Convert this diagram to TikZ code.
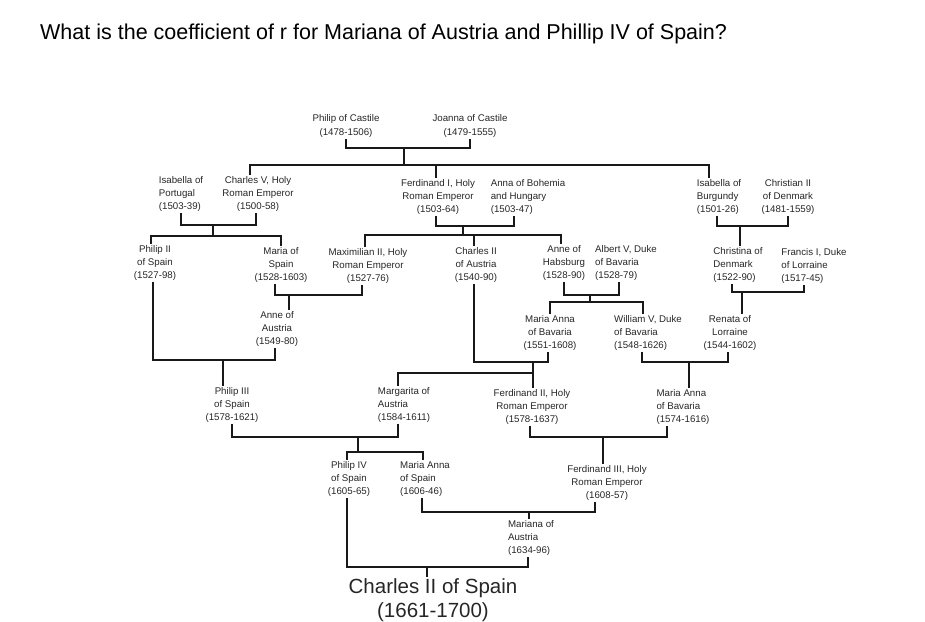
\documentclass[tikz,border=0pt]{standalone}
\usepackage{fontspec}
\setmainfont{Liberation Sans}
\begin{document}
\begin{tikzpicture}[x=1pt,y=-1pt,
    person/.style={font=\fontsize{9.7}{12.6}\selectfont,text=black!85,inner sep=1.5pt,align=center},
    lperson/.style={person,align=left}]
    \tikzstyle{link}=[draw=black!90,line width=2.4pt]
    \useasboundingbox (0,0) rectangle (925,621);

    \node[anchor=base west,inner sep=0pt,font=\fontsize{21.5}{24}\selectfont] (question) at (40,39)
        {What is the coefficient of r for Mariana of Austria and Phillip IV of Spain?};

    \node[person,font=\fontsize{9.7}{13.8}\selectfont] (phcast) at (346,126) {Philip of Castile\\(1478-1506)};
    \node[person,font=\fontsize{9.7}{13.8}\selectfont] (jocast) at (470,126) {Joanna of Castile\\(1479-1555)};

    \node[lperson] (isaport) at (181,194) {Isabella of\\Portugal\\(1503-39)};
    \node[person] (charles5) at (258,194) {Charles V, Holy\\Roman Emperor\\(1500-58)};
    \node[person] (ferd1) at (438,197) {Ferdinand I, Holy\\Roman Emperor\\(1503-64)};
    \node[lperson] (annaboh) at (528,197) {Anna of Bohemia\\and Hungary\\(1503-47)};
    \node[lperson] (isaburg) at (719,197) {Isabella of\\Burgundy\\(1501-26)};
    \node[person] (chris2) at (788,197) {Christian II\\of Denmark\\(1481-1559)};

    \node[person] (philip2) at (155,263) {Philip II\\of Spain\\(1527-98)};
    \node[person] (mariasp) at (281,265) {Maria of\\Spain\\(1528-1603)};
    \node[person] (maxim2) at (368,266) {Maximilian II, Holy\\Roman Emperor\\(1527-76)};
    \node[person] (charles2a) at (476,265) {Charles II\\of Austria\\(1540-90)};
    \node[person] (annehab) at (564,263) {Anne of\\Habsburg\\(1528-90)};
    \node[lperson] (albert5) at (626,263) {Albert V, Duke\\of Bavaria\\(1528-79)};
    \node[lperson] (christina) at (738,265) {Christina of\\Denmark\\(1522-90)};
    \node[lperson] (francis) at (814,266) {Francis I, Duke\\of Lorraine\\(1517-45)};

    \node[person] (anneaus) at (277,329) {Anne of\\Austria\\(1549-80)};
    \node[person] (mabav1) at (550,333) {Maria Anna\\of Bavaria\\(1551-1608)};
    \node[lperson] (william5) at (648,333) {William V, Duke\\of Bavaria\\(1548-1626)};
    \node[person] (renata) at (730,333) {Renata of\\Lorraine\\(1544-1602)};

    \node[person] (philip3) at (232,405) {Philip III\\of Spain\\(1578-1621)};
    \node[lperson] (margarita) at (404,405) {Margarita of\\Austria\\(1584-1611)};
    \node[person] (ferd2) at (532,407) {Ferdinand II, Holy\\Roman Emperor\\(1578-1637)};
    \node[lperson] (mabav2) at (683,407) {Maria Anna\\of Bavaria\\(1574-1616)};

    \node[person] (philip4) at (349,479) {Philip IV\\of Spain\\(1605-65)};
    \node[lperson] (masp) at (425,479) {Maria Anna\\of Spain\\(1606-46)};
    \node[person] (ferd3) at (607,483) {Ferdinand III, Holy\\Roman Emperor\\(1608-57)};
    \node[lperson] (mariana) at (531,538) {Mariana of\\Austria\\(1634-96)};

    \node[person,font=\fontsize{20.5}{24}\selectfont] (charles2s) at (433,600) {Charles II of Spain\\(1661-1700)};

    \coordinate (c0) at (404,148);  \coordinate (k0) at (404,165);
    \coordinate (c1) at (213,225);  \coordinate (k1) at (213,236);
    \coordinate (c2) at (463,226);  \coordinate (k2) at (463,235);
    \coordinate (c3) at (740,226);
    \coordinate (c4) at (289,295);
    \coordinate (c5) at (590,295);  \coordinate (k5) at (590,302);
    \coordinate (c6) at (742,292);
    \coordinate (c7) at (223,360);
    \coordinate (c8) at (533,362);  \coordinate (k8) at (533,373);
    \coordinate (c9) at (689,362);
    \coordinate (c10) at (358,437); \coordinate (k10) at (358,452);
    \coordinate (c11) at (603,437);
    \coordinate (c12) at (529,512);
    \coordinate (c13) at (427,567);

    \draw[link] (phcast) |- (c0) -| (jocast);
    \draw[link] (c0) -- (k0);
    \draw[link] (k0) -| ([xshift=-8pt]charles5.north);
    \draw[link] (k0) -| ([xshift=-2pt]ferd1.north);
    \draw[link] (k0) -| ([xshift=-10pt]isaburg.north);

    \draw[link] (isaport) |- (c1) -| ([xshift=-2pt]charles5.south);
    \draw[link] (c1) -- (k1);
    \draw[link] (k1) -| ([xshift=-4pt]philip2.north);
    \draw[link] (k1) -| (mariasp);

    \draw[link] ([xshift=-2pt]ferd1.south) |- (c2) -| ([xshift=-14pt]annaboh.south);
    \draw[link] (c2) -- (k2);
    \draw[link] (k2) -| ([xshift=-3pt]maxim2.north);
    \draw[link] (k2) -| ([xshift=-2pt]charles2a.north);
    \draw[link] (k2) -| ([xshift=-3pt]annehab.north);

    \draw[link] ([xshift=-2pt]isaburg.south) |- (c3) -| (chris2);
    \draw[link] (c3) -- (c3 |- christina.north);

    \draw[link] ([xshift=-6pt]mariasp.south) |- (c4) -| ([xshift=-6pt]maxim2.south);
    \draw[link] (c4) -- (c4 |- anneaus.north);

    \draw[link] (annehab) |- (c5) -| ([xshift=-7pt]albert5.south);
    \draw[link] (c5) -- (k5);
    \draw[link] (k5) -| (mabav1);
    \draw[link] (k5) -| ([xshift=-5pt]william5.north);

    \draw[link] ([xshift=-6pt]christina.south) |- (c6) -| ([xshift=-10pt]francis.south);
    \draw[link] (c6) -- (c6 |- renata.north);

    \draw[link] ([xshift=-2pt]philip2.south) |- (c7) -| ([xshift=-2pt]anneaus.south);
    \draw[link] (c7) -- (c7 |- philip3.north);

    \draw[link] ([xshift=-2pt]charles2a.south) |- (c8) -| ([xshift=-2pt]mabav1.south);
    \draw[link] (c8) -- (c8 |- ferd2.north);
    \draw[link] (k8) -| ([xshift=-6pt]margarita.north);

    \draw[link] ([xshift=-6pt]william5.south) |- (c9) -| ([xshift=-2pt]renata.south);
    \draw[link] (c9) -- (c9 |- mabav2.north);

    \draw[link] (philip3) |- (c10) -| ([xshift=-6pt]margarita.south);
    \draw[link] (c10) -- (k10);
    \draw[link] (k10) -| ([xshift=-2pt]philip4.north);
    \draw[link] (k10) -| ([xshift=-2pt]masp.north);

    \draw[link] ([xshift=-2pt]ferd2.south) |- (c11) -| ([xshift=-16pt]mabav2.south);
    \draw[link] (c11) -- (c11 |- ferd3.north);

    \draw[link] ([xshift=-3pt]masp.south) |- (c12) -| ([xshift=-12pt]ferd3.south);
    \draw[link] (c12) -- (c12 |- mariana.north);

    \draw[link] ([xshift=-2pt]philip4.south) |- (c13) -| ([xshift=-3pt]mariana.south);
    \draw[link] (c13) -- (c13 |- charles2s.north);
\end{tikzpicture}
\end{document}
